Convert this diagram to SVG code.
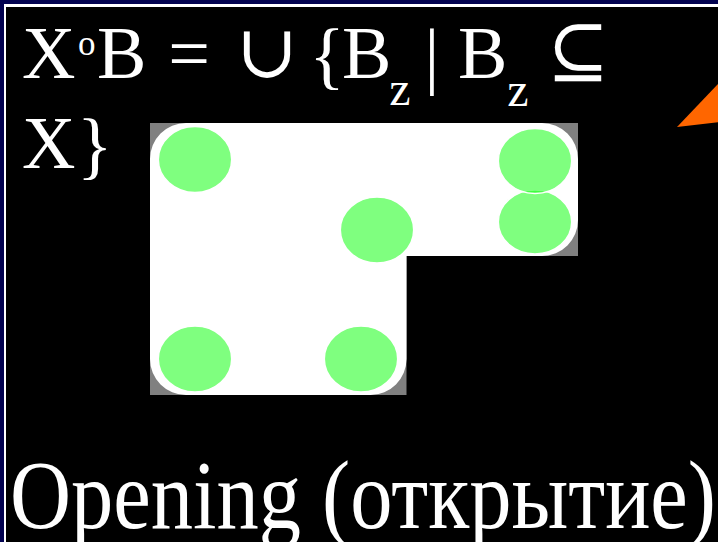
<svg xmlns="http://www.w3.org/2000/svg" width="718" height="542" viewBox="0 0 718 542">
<style>
.t{font-family:"Liberation Serif","DejaVu Serif",serif;fill:#ffffff}
.big{font-size:74px}
.sub{font-size:48px}
.dot{fill:#00ff00;fill-opacity:0.5;stroke:#ffffff;stroke-width:1.5}
</style>
<g id="frame">
<rect x="0" y="0" width="718" height="542" fill="#020250"/>
<rect x="4" y="4" width="720" height="545" fill="#ffffff"/>
<rect x="6" y="7" width="720" height="545" fill="#000000"/>
</g>
<g id="formula" class="t">
<text class="big" x="22" y="78">X</text>
<text x="78" y="55" style="font-size:35px">o</text>
<text class="big" x="97" y="78">B</text>
<text class="big" x="189" y="78" text-anchor="middle">=</text>
<text class="big" x="267" y="77" text-anchor="middle">∪</text>
<text class="big" x="327" y="80" text-anchor="middle">{</text>
<text class="big" x="342" y="78">B</text>
<text class="sub" x="400" y="105" text-anchor="middle">z</text>
<text class="big" x="432" y="80" text-anchor="middle">|</text>
<text class="big" x="458" y="78">B</text>
<text class="sub" x="518" y="106" text-anchor="middle">z</text>
<text class="big" x="578" y="76" text-anchor="middle">⊆</text>
<text class="big" x="22" y="168">X</text>
<text class="big" x="77" y="170">}</text>
</g>
<g id="shape">
<path d="M150,123 H578 V256 H406.5 V395 H150 Z" fill="#808080"/>
<path d="M150,159 A36,36 0 0 1 186,123 H542 A36,36 0 0 1 578,159 V220 A36,36 0 0 1 542,256 H406.5 V359 A36,36 0 0 1 370.5,395 H186 A36,36 0 0 1 150,359 Z" fill="#ffffff"/>
</g>
<g id="disks">
<ellipse class="dot" cx="195" cy="159.5" rx="36.7" ry="33"/>
<ellipse class="dot" cx="377" cy="230" rx="36.7" ry="33"/>
<ellipse class="dot" cx="195" cy="359" rx="36.7" ry="33"/>
<ellipse class="dot" cx="361" cy="359" rx="36.7" ry="33"/>
<ellipse class="dot" cx="535" cy="222" rx="36.7" ry="32"/>
<ellipse class="dot" cx="535" cy="161" rx="36.7" ry="32.5"/>
</g>
<g id="pointer">
<polygon points="677,127 720,82 720,122" fill="#ff6600"/>
</g>
<g id="caption" class="t">
<text x="10" y="528" style="font-size:98px" textLength="706" lengthAdjust="spacingAndGlyphs">Opening (открытие)</text>
</g>
</svg>
